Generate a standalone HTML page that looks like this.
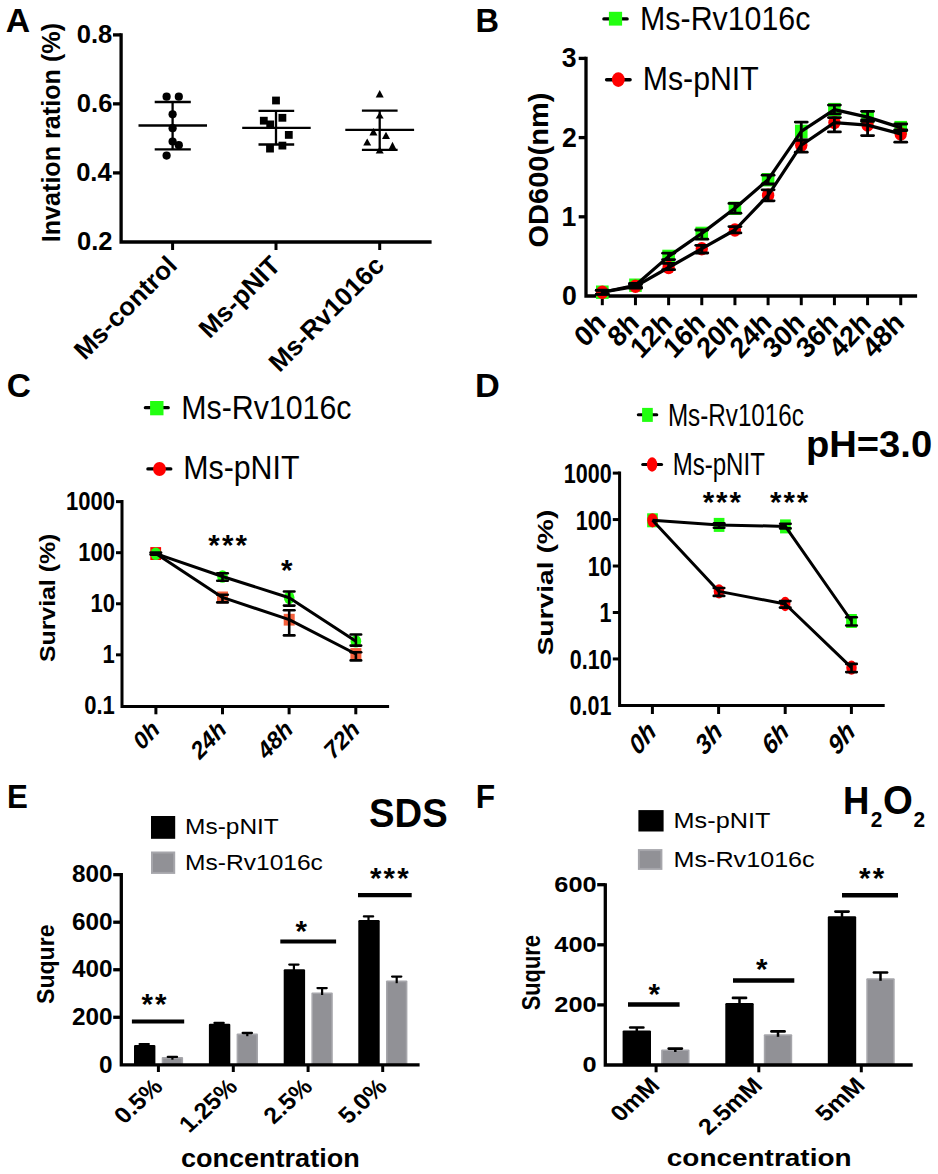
<!DOCTYPE html>
<html><head><meta charset="utf-8"><style>
html,body{margin:0;padding:0;background:#fff;}
svg{display:block;}
text{font-family:"Liberation Sans", sans-serif;fill:#000;}
</style></head><body>
<svg width="938" height="1174" viewBox="0 0 938 1174">
<rect width="938" height="1174" fill="#fff"/>
<text transform="translate(5.70,31.60)" font-size="33.75" font-weight="bold" font-style="normal" text-anchor="start">A</text>
<path d="M121.10,33.20 V242.00 M119.45,242.00 H431.60" fill="none" stroke="#000" stroke-width="3.3"/>
<line x1="113.00" y1="34.90" x2="121.10" y2="34.90" stroke="#000" stroke-width="3.3" stroke-linecap="butt"/>
<line x1="113.00" y1="103.85" x2="121.10" y2="103.85" stroke="#000" stroke-width="3.3" stroke-linecap="butt"/>
<line x1="113.00" y1="172.90" x2="121.10" y2="172.90" stroke="#000" stroke-width="3.3" stroke-linecap="butt"/>
<text transform="translate(112.25,43.15) scale(1,1.0222)" font-size="25.55" font-weight="bold" font-style="normal" text-anchor="end">0.8</text>
<text transform="translate(112.35,112.10) scale(1,1.0222)" font-size="25.55" font-weight="bold" font-style="normal" text-anchor="end">0.6</text>
<text transform="translate(111.65,181.15) scale(1,1.0222)" font-size="25.55" font-weight="bold" font-style="normal" text-anchor="end">0.4</text>
<text transform="translate(112.45,250.25) scale(1,1.0222)" font-size="25.55" font-weight="bold" font-style="normal" text-anchor="end">0.2</text>
<text transform="translate(59.52,242.30) rotate(-90) scale(1,1.0342)" font-size="25.15" font-weight="bold" font-style="normal" text-anchor="start">Invation ration (%)</text>
<line x1="172.60" y1="242.00" x2="172.60" y2="250.00" stroke="#000" stroke-width="3" stroke-linecap="butt"/>
<text transform="translate(178.60,267.00) rotate(-45)" font-size="26.00" font-weight="bold" font-style="normal" text-anchor="end">Ms-control</text>
<line x1="276.00" y1="242.00" x2="276.00" y2="250.00" stroke="#000" stroke-width="3" stroke-linecap="butt"/>
<text transform="translate(282.00,267.00) rotate(-45)" font-size="26.00" font-weight="bold" font-style="normal" text-anchor="end">Ms-pNIT</text>
<line x1="379.70" y1="242.00" x2="379.70" y2="250.00" stroke="#000" stroke-width="3" stroke-linecap="butt"/>
<text transform="translate(385.70,267.00) rotate(-45)" font-size="26.00" font-weight="bold" font-style="normal" text-anchor="end">Ms-Rv1016c</text>
<ellipse cx="166.60" cy="96.70" rx="4.10" ry="4.10" fill="#000"/>
<ellipse cx="178.80" cy="96.70" rx="4.10" ry="4.10" fill="#000"/>
<ellipse cx="172.60" cy="114.30" rx="4.10" ry="4.10" fill="#000"/>
<ellipse cx="172.60" cy="128.20" rx="4.10" ry="4.10" fill="#000"/>
<ellipse cx="172.60" cy="141.50" rx="4.10" ry="4.10" fill="#000"/>
<ellipse cx="178.80" cy="145.20" rx="4.10" ry="4.10" fill="#000"/>
<ellipse cx="166.60" cy="155.60" rx="4.10" ry="4.10" fill="#000"/>
<rect x="272.10" y="96.60" width="7.80" height="7.80" fill="#000"/>
<rect x="259.90" y="116.80" width="7.80" height="7.80" fill="#000"/>
<rect x="266.30" y="120.50" width="7.80" height="7.80" fill="#000"/>
<rect x="278.50" y="113.90" width="7.80" height="7.80" fill="#000"/>
<rect x="284.90" y="131.00" width="7.80" height="7.80" fill="#000"/>
<rect x="278.50" y="141.70" width="7.80" height="7.80" fill="#000"/>
<rect x="266.10" y="144.70" width="7.80" height="7.80" fill="#000"/>
<polygon points="379.70,90.10 383.70,97.60 375.70,97.60" fill="#000"/>
<polygon points="379.70,112.00 383.70,118.60 375.70,118.60" fill="#000"/>
<polygon points="373.40,128.00 377.40,135.40 369.40,135.40" fill="#000"/>
<polygon points="386.00,131.70 390.00,139.00 382.00,139.00" fill="#000"/>
<polygon points="367.20,138.40 371.20,145.60 363.20,145.60" fill="#000"/>
<polygon points="392.50,141.80 396.50,149.80 388.50,149.80" fill="#000"/>
<polygon points="379.70,146.50 383.70,153.50 375.70,153.50" fill="#000"/>
<line x1="138.50" y1="125.50" x2="207.00" y2="125.50" stroke="#000" stroke-width="2.3" stroke-linecap="butt"/>
<line x1="172.60" y1="102.00" x2="172.60" y2="149.30" stroke="#000" stroke-width="2.3" stroke-linecap="butt"/>
<line x1="154.70" y1="102.00" x2="190.80" y2="102.00" stroke="#000" stroke-width="2.3" stroke-linecap="butt"/>
<line x1="154.70" y1="149.30" x2="190.80" y2="149.30" stroke="#000" stroke-width="2.3" stroke-linecap="butt"/>
<line x1="242.20" y1="127.90" x2="310.70" y2="127.90" stroke="#000" stroke-width="2.3" stroke-linecap="butt"/>
<line x1="276.00" y1="110.80" x2="276.00" y2="144.50" stroke="#000" stroke-width="2.3" stroke-linecap="butt"/>
<line x1="258.50" y1="110.80" x2="294.20" y2="110.80" stroke="#000" stroke-width="2.3" stroke-linecap="butt"/>
<line x1="258.50" y1="144.50" x2="294.20" y2="144.50" stroke="#000" stroke-width="2.3" stroke-linecap="butt"/>
<line x1="345.30" y1="129.90" x2="414.10" y2="129.90" stroke="#000" stroke-width="2.3" stroke-linecap="butt"/>
<line x1="379.70" y1="110.70" x2="379.70" y2="149.80" stroke="#000" stroke-width="2.3" stroke-linecap="butt"/>
<line x1="361.90" y1="110.70" x2="397.60" y2="110.70" stroke="#000" stroke-width="2.3" stroke-linecap="butt"/>
<line x1="361.90" y1="149.80" x2="397.60" y2="149.80" stroke="#000" stroke-width="2.3" stroke-linecap="butt"/>
<text transform="translate(475.40,31.60) scale(1,1.0357)" font-size="32.55" font-weight="bold" font-style="normal" text-anchor="start">B</text>
<path d="M586.00,56.80 V296.00 M584.35,296.00 H917.10" fill="none" stroke="#000" stroke-width="3.3"/>
<line x1="578.70" y1="58.40" x2="586.00" y2="58.40" stroke="#000" stroke-width="3.3" stroke-linecap="butt"/>
<line x1="578.70" y1="137.60" x2="586.00" y2="137.60" stroke="#000" stroke-width="3.3" stroke-linecap="butt"/>
<line x1="578.70" y1="216.80" x2="586.00" y2="216.80" stroke="#000" stroke-width="3.3" stroke-linecap="butt"/>
<text transform="translate(576.59,67.48) scale(1,1.0600)" font-size="26.60" font-weight="bold" font-style="normal" text-anchor="end">3</text>
<text transform="translate(576.69,146.68) scale(1,1.0600)" font-size="26.60" font-weight="bold" font-style="normal" text-anchor="end">2</text>
<text transform="translate(576.29,225.88) scale(1,1.0600)" font-size="26.60" font-weight="bold" font-style="normal" text-anchor="end">1</text>
<text transform="translate(576.69,305.08) scale(1,1.0600)" font-size="26.60" font-weight="bold" font-style="normal" text-anchor="end">0</text>
<text transform="translate(547.91,247.50) rotate(-90) scale(1,0.9481)" font-size="29.05" font-weight="bold" font-style="normal" text-anchor="start">OD600(nm)</text>
<line x1="602.30" y1="296.00" x2="602.30" y2="305.20" stroke="#000" stroke-width="3" stroke-linecap="butt"/>
<text transform="translate(607.35,324.40) scale(1,1.0900) rotate(-45)" font-size="26.70" font-weight="bold" font-style="normal" text-anchor="end">0h</text>
<line x1="635.46" y1="296.00" x2="635.46" y2="305.20" stroke="#000" stroke-width="3" stroke-linecap="butt"/>
<text transform="translate(640.51,324.40) scale(1,1.0900) rotate(-45)" font-size="26.70" font-weight="bold" font-style="normal" text-anchor="end">8h</text>
<line x1="668.62" y1="296.00" x2="668.62" y2="305.20" stroke="#000" stroke-width="3" stroke-linecap="butt"/>
<text transform="translate(673.67,324.40) scale(1,1.0900) rotate(-45)" font-size="26.70" font-weight="bold" font-style="normal" text-anchor="end">12h</text>
<line x1="701.78" y1="296.00" x2="701.78" y2="305.20" stroke="#000" stroke-width="3" stroke-linecap="butt"/>
<text transform="translate(706.83,324.40) scale(1,1.0900) rotate(-45)" font-size="26.70" font-weight="bold" font-style="normal" text-anchor="end">16h</text>
<line x1="734.94" y1="296.00" x2="734.94" y2="305.20" stroke="#000" stroke-width="3" stroke-linecap="butt"/>
<text transform="translate(739.99,324.40) scale(1,1.0900) rotate(-45)" font-size="26.70" font-weight="bold" font-style="normal" text-anchor="end">20h</text>
<line x1="768.10" y1="296.00" x2="768.10" y2="305.20" stroke="#000" stroke-width="3" stroke-linecap="butt"/>
<text transform="translate(773.15,324.40) scale(1,1.0900) rotate(-45)" font-size="26.70" font-weight="bold" font-style="normal" text-anchor="end">24h</text>
<line x1="801.26" y1="296.00" x2="801.26" y2="305.20" stroke="#000" stroke-width="3" stroke-linecap="butt"/>
<text transform="translate(806.31,324.40) scale(1,1.0900) rotate(-45)" font-size="26.70" font-weight="bold" font-style="normal" text-anchor="end">30h</text>
<line x1="834.42" y1="296.00" x2="834.42" y2="305.20" stroke="#000" stroke-width="3" stroke-linecap="butt"/>
<text transform="translate(839.47,324.40) scale(1,1.0900) rotate(-45)" font-size="26.70" font-weight="bold" font-style="normal" text-anchor="end">36h</text>
<line x1="867.58" y1="296.00" x2="867.58" y2="305.20" stroke="#000" stroke-width="3" stroke-linecap="butt"/>
<text transform="translate(872.63,324.40) scale(1,1.0900) rotate(-45)" font-size="26.70" font-weight="bold" font-style="normal" text-anchor="end">42h</text>
<line x1="900.74" y1="296.00" x2="900.74" y2="305.20" stroke="#000" stroke-width="3" stroke-linecap="butt"/>
<text transform="translate(905.79,324.40) scale(1,1.0900) rotate(-45)" font-size="26.70" font-weight="bold" font-style="normal" text-anchor="end">48h</text>
<rect x="596.00" y="285.50" width="12.60" height="13.40" fill="#22ff10"/>
<rect x="629.16" y="278.50" width="12.60" height="13.40" fill="#22ff10"/>
<rect x="662.32" y="249.70" width="12.60" height="13.40" fill="#22ff10"/>
<rect x="695.48" y="226.70" width="12.60" height="13.40" fill="#22ff10"/>
<rect x="728.64" y="201.60" width="12.60" height="13.40" fill="#22ff10"/>
<rect x="761.80" y="173.00" width="12.60" height="13.40" fill="#22ff10"/>
<rect x="794.96" y="124.70" width="12.60" height="13.40" fill="#22ff10"/>
<rect x="828.12" y="102.90" width="12.60" height="13.40" fill="#22ff10"/>
<rect x="861.28" y="110.40" width="12.60" height="13.40" fill="#22ff10"/>
<rect x="894.44" y="120.90" width="12.60" height="13.40" fill="#22ff10"/>
<ellipse cx="602.30" cy="292.20" rx="6.20" ry="6.70" fill="#ff0000"/>
<ellipse cx="635.46" cy="286.30" rx="6.20" ry="6.70" fill="#ff0000"/>
<ellipse cx="668.62" cy="267.50" rx="6.20" ry="6.70" fill="#ff0000"/>
<ellipse cx="701.78" cy="248.70" rx="6.20" ry="6.70" fill="#ff0000"/>
<ellipse cx="734.94" cy="230.00" rx="6.20" ry="6.70" fill="#ff0000"/>
<ellipse cx="768.10" cy="195.30" rx="6.20" ry="6.70" fill="#ff0000"/>
<ellipse cx="801.26" cy="145.20" rx="6.20" ry="6.70" fill="#ff0000"/>
<ellipse cx="834.42" cy="122.60" rx="6.20" ry="6.70" fill="#ff0000"/>
<ellipse cx="867.58" cy="125.10" rx="6.20" ry="6.70" fill="#ff0000"/>
<ellipse cx="900.74" cy="133.90" rx="6.20" ry="6.70" fill="#ff0000"/>
<polyline points="602.30,292.20 635.46,285.20 668.62,256.40 701.78,233.40 734.94,208.30 768.10,179.70 801.26,131.40 834.42,109.60 867.58,117.10 900.74,127.60" fill="none" stroke="#000" stroke-width="3.2" stroke-linejoin="round"/>
<polyline points="602.30,292.20 635.46,286.30 668.62,267.50 701.78,248.70 734.94,230.00 768.10,195.30 801.26,145.20 834.42,122.60 867.58,125.10 900.74,133.90" fill="none" stroke="#000" stroke-width="3.2" stroke-linejoin="round"/>
<line x1="602.30" y1="290.20" x2="602.30" y2="294.20" stroke="#000" stroke-width="2.8" stroke-linecap="butt"/>
<line x1="596.30" y1="290.20" x2="608.30" y2="290.20" stroke="#000" stroke-width="2.8" stroke-linecap="round"/>
<line x1="596.30" y1="294.20" x2="608.30" y2="294.20" stroke="#000" stroke-width="2.8" stroke-linecap="round"/>
<line x1="635.46" y1="283.40" x2="635.46" y2="287.20" stroke="#000" stroke-width="2.8" stroke-linecap="butt"/>
<line x1="629.46" y1="283.40" x2="641.46" y2="283.40" stroke="#000" stroke-width="2.8" stroke-linecap="round"/>
<line x1="629.46" y1="287.20" x2="641.46" y2="287.20" stroke="#000" stroke-width="2.8" stroke-linecap="round"/>
<line x1="668.62" y1="253.20" x2="668.62" y2="259.60" stroke="#000" stroke-width="2.8" stroke-linecap="butt"/>
<line x1="662.62" y1="253.20" x2="674.62" y2="253.20" stroke="#000" stroke-width="2.8" stroke-linecap="round"/>
<line x1="662.62" y1="259.60" x2="674.62" y2="259.60" stroke="#000" stroke-width="2.8" stroke-linecap="round"/>
<line x1="701.78" y1="230.00" x2="701.78" y2="239.20" stroke="#000" stroke-width="2.8" stroke-linecap="butt"/>
<line x1="695.78" y1="230.00" x2="707.78" y2="230.00" stroke="#000" stroke-width="2.8" stroke-linecap="round"/>
<line x1="695.78" y1="239.20" x2="707.78" y2="239.20" stroke="#000" stroke-width="2.8" stroke-linecap="round"/>
<line x1="734.94" y1="203.40" x2="734.94" y2="213.20" stroke="#000" stroke-width="2.8" stroke-linecap="butt"/>
<line x1="728.94" y1="203.40" x2="740.94" y2="203.40" stroke="#000" stroke-width="2.8" stroke-linecap="round"/>
<line x1="728.94" y1="213.20" x2="740.94" y2="213.20" stroke="#000" stroke-width="2.8" stroke-linecap="round"/>
<line x1="768.10" y1="175.20" x2="768.10" y2="184.00" stroke="#000" stroke-width="2.8" stroke-linecap="butt"/>
<line x1="762.10" y1="175.20" x2="774.10" y2="175.20" stroke="#000" stroke-width="2.8" stroke-linecap="round"/>
<line x1="762.10" y1="184.00" x2="774.10" y2="184.00" stroke="#000" stroke-width="2.8" stroke-linecap="round"/>
<line x1="801.26" y1="122.10" x2="801.26" y2="140.00" stroke="#000" stroke-width="2.8" stroke-linecap="butt"/>
<line x1="795.26" y1="122.10" x2="807.26" y2="122.10" stroke="#000" stroke-width="2.8" stroke-linecap="round"/>
<line x1="795.26" y1="140.00" x2="807.26" y2="140.00" stroke="#000" stroke-width="2.8" stroke-linecap="round"/>
<line x1="834.42" y1="105.10" x2="834.42" y2="113.80" stroke="#000" stroke-width="2.8" stroke-linecap="butt"/>
<line x1="828.42" y1="105.10" x2="840.42" y2="105.10" stroke="#000" stroke-width="2.8" stroke-linecap="round"/>
<line x1="828.42" y1="113.80" x2="840.42" y2="113.80" stroke="#000" stroke-width="2.8" stroke-linecap="round"/>
<line x1="867.58" y1="111.30" x2="867.58" y2="121.40" stroke="#000" stroke-width="2.8" stroke-linecap="butt"/>
<line x1="861.58" y1="111.30" x2="873.58" y2="111.30" stroke="#000" stroke-width="2.8" stroke-linecap="round"/>
<line x1="861.58" y1="121.40" x2="873.58" y2="121.40" stroke="#000" stroke-width="2.8" stroke-linecap="round"/>
<line x1="900.74" y1="124.00" x2="900.74" y2="130.50" stroke="#000" stroke-width="2.8" stroke-linecap="butt"/>
<line x1="894.74" y1="124.00" x2="906.74" y2="124.00" stroke="#000" stroke-width="2.8" stroke-linecap="round"/>
<line x1="894.74" y1="130.50" x2="906.74" y2="130.50" stroke="#000" stroke-width="2.8" stroke-linecap="round"/>
<line x1="602.30" y1="290.40" x2="602.30" y2="294.40" stroke="#000" stroke-width="2.8" stroke-linecap="butt"/>
<line x1="596.30" y1="290.40" x2="608.30" y2="290.40" stroke="#000" stroke-width="2.8" stroke-linecap="round"/>
<line x1="596.30" y1="294.40" x2="608.30" y2="294.40" stroke="#000" stroke-width="2.8" stroke-linecap="round"/>
<line x1="635.46" y1="284.60" x2="635.46" y2="288.20" stroke="#000" stroke-width="2.8" stroke-linecap="butt"/>
<line x1="629.46" y1="284.60" x2="641.46" y2="284.60" stroke="#000" stroke-width="2.8" stroke-linecap="round"/>
<line x1="629.46" y1="288.20" x2="641.46" y2="288.20" stroke="#000" stroke-width="2.8" stroke-linecap="round"/>
<line x1="668.62" y1="263.40" x2="668.62" y2="269.70" stroke="#000" stroke-width="2.8" stroke-linecap="butt"/>
<line x1="662.62" y1="263.40" x2="674.62" y2="263.40" stroke="#000" stroke-width="2.8" stroke-linecap="round"/>
<line x1="662.62" y1="269.70" x2="674.62" y2="269.70" stroke="#000" stroke-width="2.8" stroke-linecap="round"/>
<line x1="701.78" y1="245.30" x2="701.78" y2="253.00" stroke="#000" stroke-width="2.8" stroke-linecap="butt"/>
<line x1="695.78" y1="245.30" x2="707.78" y2="245.30" stroke="#000" stroke-width="2.8" stroke-linecap="round"/>
<line x1="695.78" y1="253.00" x2="707.78" y2="253.00" stroke="#000" stroke-width="2.8" stroke-linecap="round"/>
<line x1="734.94" y1="226.60" x2="734.94" y2="232.90" stroke="#000" stroke-width="2.8" stroke-linecap="butt"/>
<line x1="728.94" y1="226.60" x2="740.94" y2="226.60" stroke="#000" stroke-width="2.8" stroke-linecap="round"/>
<line x1="728.94" y1="232.90" x2="740.94" y2="232.90" stroke="#000" stroke-width="2.8" stroke-linecap="round"/>
<line x1="768.10" y1="189.80" x2="768.10" y2="200.80" stroke="#000" stroke-width="2.8" stroke-linecap="butt"/>
<line x1="762.10" y1="189.80" x2="774.10" y2="189.80" stroke="#000" stroke-width="2.8" stroke-linecap="round"/>
<line x1="762.10" y1="200.80" x2="774.10" y2="200.80" stroke="#000" stroke-width="2.8" stroke-linecap="round"/>
<line x1="801.26" y1="140.20" x2="801.26" y2="152.20" stroke="#000" stroke-width="2.8" stroke-linecap="butt"/>
<line x1="795.26" y1="140.20" x2="807.26" y2="140.20" stroke="#000" stroke-width="2.8" stroke-linecap="round"/>
<line x1="795.26" y1="152.20" x2="807.26" y2="152.20" stroke="#000" stroke-width="2.8" stroke-linecap="round"/>
<line x1="834.42" y1="117.60" x2="834.42" y2="131.90" stroke="#000" stroke-width="2.8" stroke-linecap="butt"/>
<line x1="828.42" y1="117.60" x2="840.42" y2="117.60" stroke="#000" stroke-width="2.8" stroke-linecap="round"/>
<line x1="828.42" y1="131.90" x2="840.42" y2="131.90" stroke="#000" stroke-width="2.8" stroke-linecap="round"/>
<line x1="867.58" y1="120.00" x2="867.58" y2="135.60" stroke="#000" stroke-width="2.8" stroke-linecap="butt"/>
<line x1="861.58" y1="120.00" x2="873.58" y2="120.00" stroke="#000" stroke-width="2.8" stroke-linecap="round"/>
<line x1="861.58" y1="135.60" x2="873.58" y2="135.60" stroke="#000" stroke-width="2.8" stroke-linecap="round"/>
<line x1="900.74" y1="130.00" x2="900.74" y2="142.20" stroke="#000" stroke-width="2.8" stroke-linecap="butt"/>
<line x1="894.74" y1="130.00" x2="906.74" y2="130.00" stroke="#000" stroke-width="2.8" stroke-linecap="round"/>
<line x1="894.74" y1="142.20" x2="906.74" y2="142.20" stroke="#000" stroke-width="2.8" stroke-linecap="round"/>
<line x1="603.90" y1="18.90" x2="627.10" y2="18.90" stroke="#000" stroke-width="3.4" stroke-linecap="round"/>
<rect x="608.90" y="11.80" width="13.20" height="13.80" fill="#22ff10"/>
<text transform="translate(640.10,29.68) scale(1,1.0791)" font-size="30.35" font-weight="normal" font-style="normal" text-anchor="start">Ms-Rv1016c</text>
<line x1="606.60" y1="79.70" x2="630.10" y2="79.70" stroke="#000" stroke-width="3.4" stroke-linecap="round"/>
<ellipse cx="618.30" cy="79.60" rx="6.45" ry="7.35" fill="#ff0000"/>
<text transform="translate(642.80,90.33) scale(1,1.1070)" font-size="30.25" font-weight="normal" font-style="normal" text-anchor="start">Ms-pNIT</text>
<text transform="translate(6.70,397.20) scale(1,1.0084)" font-size="33.45" font-weight="bold" font-style="normal" text-anchor="start">C</text>
<path d="M122.00,500.00 V706.40 M120.50,706.40 H389.10" fill="none" stroke="#000" stroke-width="3.0"/>
<line x1="116.00" y1="501.62" x2="122.00" y2="501.62" stroke="#000" stroke-width="3.0" stroke-linecap="butt"/>
<line x1="116.00" y1="552.69" x2="122.00" y2="552.69" stroke="#000" stroke-width="3.0" stroke-linecap="butt"/>
<line x1="116.00" y1="603.76" x2="122.00" y2="603.76" stroke="#000" stroke-width="3.0" stroke-linecap="butt"/>
<line x1="116.00" y1="654.83" x2="122.00" y2="654.83" stroke="#000" stroke-width="3.0" stroke-linecap="butt"/>
<text transform="translate(115.04,509.89) scale(1,1.1410)" font-size="22.05" font-weight="bold" font-style="normal" text-anchor="end">1000</text>
<text transform="translate(115.01,560.96) scale(1,1.1410)" font-size="22.05" font-weight="bold" font-style="normal" text-anchor="end">100</text>
<text transform="translate(115.07,612.03) scale(1,1.1410)" font-size="22.05" font-weight="bold" font-style="normal" text-anchor="end">10</text>
<text transform="translate(114.74,663.10) scale(1,1.1410)" font-size="22.05" font-weight="bold" font-style="normal" text-anchor="end">1</text>
<text transform="translate(114.78,714.17) scale(1,1.1410)" font-size="22.05" font-weight="bold" font-style="normal" text-anchor="end">0.1</text>
<text transform="translate(55.24,662.10) rotate(-90) scale(1,0.8966)" font-size="24.85" font-weight="bold" font-style="normal" text-anchor="start">Survial (%)</text>
<line x1="155.90" y1="706.40" x2="155.90" y2="714.30" stroke="#000" stroke-width="3" stroke-linecap="butt"/>
<text transform="translate(161.30,731.00) scale(1,1.0400) rotate(-45)" font-size="23.00" font-weight="bold" font-style="italic" text-anchor="end">0h</text>
<line x1="222.50" y1="706.40" x2="222.50" y2="714.30" stroke="#000" stroke-width="3" stroke-linecap="butt"/>
<text transform="translate(227.90,731.00) scale(1,1.0400) rotate(-45)" font-size="23.00" font-weight="bold" font-style="italic" text-anchor="end">24h</text>
<line x1="289.10" y1="706.40" x2="289.10" y2="714.30" stroke="#000" stroke-width="3" stroke-linecap="butt"/>
<text transform="translate(294.50,731.00) scale(1,1.0400) rotate(-45)" font-size="23.00" font-weight="bold" font-style="italic" text-anchor="end">48h</text>
<line x1="355.80" y1="706.40" x2="355.80" y2="714.30" stroke="#000" stroke-width="3" stroke-linecap="butt"/>
<text transform="translate(361.20,731.00) scale(1,1.0400) rotate(-45)" font-size="23.00" font-weight="bold" font-style="italic" text-anchor="end">72h</text>
<rect x="150.30" y="547.10" width="10.80" height="12.90" fill="#ff0000"/>
<rect x="217.00" y="591.50" width="11.00" height="11.80" fill="#f4603c"/>
<rect x="283.70" y="613.80" width="11.00" height="11.80" fill="#f4603c"/>
<rect x="350.40" y="648.10" width="11.00" height="11.80" fill="#f4603c"/>
<ellipse cx="155.80" cy="553.80" rx="5.30" ry="6.30" fill="#22ff10"/>
<ellipse cx="222.50" cy="576.50" rx="5.30" ry="6.30" fill="#22ff10"/>
<ellipse cx="289.20" cy="597.70" rx="5.30" ry="6.30" fill="#22ff10"/>
<ellipse cx="355.90" cy="641.20" rx="5.30" ry="6.30" fill="#22ff10"/>
<polyline points="155.80,553.60 222.50,576.50 289.20,597.70 355.90,641.20" fill="none" stroke="#000" stroke-width="3.0" stroke-linejoin="round"/>
<polyline points="155.80,553.60 222.50,597.40 289.20,619.70 355.90,654.00" fill="none" stroke="#000" stroke-width="3.0" stroke-linejoin="round"/>
<line x1="155.80" y1="552.60" x2="155.80" y2="554.60" stroke="#000" stroke-width="2.6" stroke-linecap="butt"/>
<line x1="150.55" y1="552.60" x2="161.05" y2="552.60" stroke="#000" stroke-width="2.6" stroke-linecap="round"/>
<line x1="150.55" y1="554.60" x2="161.05" y2="554.60" stroke="#000" stroke-width="2.6" stroke-linecap="round"/>
<line x1="222.50" y1="573.20" x2="222.50" y2="580.70" stroke="#000" stroke-width="2.6" stroke-linecap="butt"/>
<line x1="217.25" y1="573.20" x2="227.75" y2="573.20" stroke="#000" stroke-width="2.6" stroke-linecap="round"/>
<line x1="217.25" y1="580.70" x2="227.75" y2="580.70" stroke="#000" stroke-width="2.6" stroke-linecap="round"/>
<line x1="289.20" y1="591.50" x2="289.20" y2="605.60" stroke="#000" stroke-width="2.6" stroke-linecap="butt"/>
<line x1="283.95" y1="591.50" x2="294.45" y2="591.50" stroke="#000" stroke-width="2.6" stroke-linecap="round"/>
<line x1="283.95" y1="605.60" x2="294.45" y2="605.60" stroke="#000" stroke-width="2.6" stroke-linecap="round"/>
<line x1="355.90" y1="634.50" x2="355.90" y2="645.60" stroke="#000" stroke-width="2.6" stroke-linecap="butt"/>
<line x1="350.65" y1="634.50" x2="361.15" y2="634.50" stroke="#000" stroke-width="2.6" stroke-linecap="round"/>
<line x1="350.65" y1="645.60" x2="361.15" y2="645.60" stroke="#000" stroke-width="2.6" stroke-linecap="round"/>
<line x1="222.50" y1="594.70" x2="222.50" y2="602.40" stroke="#000" stroke-width="2.6" stroke-linecap="butt"/>
<line x1="217.25" y1="594.70" x2="227.75" y2="594.70" stroke="#000" stroke-width="2.6" stroke-linecap="round"/>
<line x1="217.25" y1="602.40" x2="227.75" y2="602.40" stroke="#000" stroke-width="2.6" stroke-linecap="round"/>
<line x1="289.20" y1="610.20" x2="289.20" y2="635.40" stroke="#000" stroke-width="2.6" stroke-linecap="butt"/>
<line x1="283.95" y1="610.20" x2="294.45" y2="610.20" stroke="#000" stroke-width="2.6" stroke-linecap="round"/>
<line x1="283.95" y1="635.40" x2="294.45" y2="635.40" stroke="#000" stroke-width="2.6" stroke-linecap="round"/>
<line x1="355.90" y1="652.30" x2="355.90" y2="660.40" stroke="#000" stroke-width="2.6" stroke-linecap="butt"/>
<line x1="350.65" y1="652.30" x2="361.15" y2="652.30" stroke="#000" stroke-width="2.6" stroke-linecap="round"/>
<line x1="350.65" y1="660.40" x2="361.15" y2="660.40" stroke="#000" stroke-width="2.6" stroke-linecap="round"/>
<text transform="translate(208.30,554.80)" font-size="29.50" font-weight="bold" font-style="normal" text-anchor="start">*</text>
<text transform="translate(222.00,554.80)" font-size="29.50" font-weight="bold" font-style="normal" text-anchor="start">*</text>
<text transform="translate(235.60,554.80)" font-size="29.50" font-weight="bold" font-style="normal" text-anchor="start">*</text>
<text transform="translate(280.90,579.90)" font-size="29.50" font-weight="bold" font-style="normal" text-anchor="start">*</text>
<line x1="145.40" y1="407.70" x2="168.20" y2="407.70" stroke="#000" stroke-width="3.3" stroke-linecap="round"/>
<rect x="150.10" y="401.00" width="13.40" height="14.30" fill="#22ff10"/>
<text transform="translate(181.20,419.27) scale(1,1.0837)" font-size="30.35" font-weight="normal" font-style="normal" text-anchor="start">Ms-Rv1016c</text>
<line x1="147.90" y1="468.90" x2="170.80" y2="468.90" stroke="#000" stroke-width="3.3" stroke-linecap="round"/>
<ellipse cx="159.50" cy="469.00" rx="6.45" ry="7.05" fill="#ff0000"/>
<text transform="translate(183.20,479.30) scale(1,1.0959)" font-size="30.35" font-weight="normal" font-style="normal" text-anchor="start">Ms-pNIT</text>
<text transform="translate(475.10,397.10) scale(1,0.9662)" font-size="34.35" font-weight="bold" font-style="normal" text-anchor="start">D</text>
<path d="M619.60,471.50 V705.60 M618.10,705.60 H884.70" fill="none" stroke="#000" stroke-width="3.0"/>
<line x1="612.80" y1="473.10" x2="619.60" y2="473.10" stroke="#000" stroke-width="3.0" stroke-linecap="butt"/>
<line x1="612.80" y1="519.56" x2="619.60" y2="519.56" stroke="#000" stroke-width="3.0" stroke-linecap="butt"/>
<line x1="612.80" y1="566.02" x2="619.60" y2="566.02" stroke="#000" stroke-width="3.0" stroke-linecap="butt"/>
<line x1="612.80" y1="612.48" x2="619.60" y2="612.48" stroke="#000" stroke-width="3.0" stroke-linecap="butt"/>
<line x1="612.80" y1="658.94" x2="619.60" y2="658.94" stroke="#000" stroke-width="3.0" stroke-linecap="butt"/>
<text transform="translate(611.75,483.04) scale(1,1.2941)" font-size="21.55" font-weight="bold" font-style="normal" text-anchor="end">1000</text>
<text transform="translate(611.74,529.50) scale(1,1.2941)" font-size="21.55" font-weight="bold" font-style="normal" text-anchor="end">100</text>
<text transform="translate(611.72,575.96) scale(1,1.2941)" font-size="21.55" font-weight="bold" font-style="normal" text-anchor="end">10</text>
<text transform="translate(611.41,622.42) scale(1,1.2941)" font-size="21.55" font-weight="bold" font-style="normal" text-anchor="end">1</text>
<text transform="translate(611.74,668.88) scale(1,1.2941)" font-size="21.55" font-weight="bold" font-style="normal" text-anchor="end">0.10</text>
<text transform="translate(611.44,715.34) scale(1,1.2941)" font-size="21.55" font-weight="bold" font-style="normal" text-anchor="end">0.01</text>
<text transform="translate(552.82,655.60) rotate(-90) scale(1,0.7765)" font-size="28.25" font-weight="bold" font-style="normal" text-anchor="start">Survial (%)</text>
<line x1="652.40" y1="705.60" x2="652.40" y2="714.00" stroke="#000" stroke-width="3" stroke-linecap="butt"/>
<text transform="translate(657.50,733.30) scale(1,1.2100) rotate(-45)" font-size="23.10" font-weight="bold" font-style="italic" text-anchor="end">0h</text>
<line x1="718.60" y1="705.60" x2="718.60" y2="714.00" stroke="#000" stroke-width="3" stroke-linecap="butt"/>
<text transform="translate(723.70,733.30) scale(1,1.2100) rotate(-45)" font-size="23.10" font-weight="bold" font-style="italic" text-anchor="end">3h</text>
<line x1="785.20" y1="705.60" x2="785.20" y2="714.00" stroke="#000" stroke-width="3" stroke-linecap="butt"/>
<text transform="translate(790.30,733.30) scale(1,1.2100) rotate(-45)" font-size="23.10" font-weight="bold" font-style="italic" text-anchor="end">6h</text>
<line x1="851.40" y1="705.60" x2="851.40" y2="714.00" stroke="#000" stroke-width="3" stroke-linecap="butt"/>
<text transform="translate(856.50,733.30) scale(1,1.2100) rotate(-45)" font-size="23.10" font-weight="bold" font-style="italic" text-anchor="end">9h</text>
<rect x="647.15" y="513.30" width="10.70" height="14.00" fill="#22ff10"/>
<rect x="713.75" y="517.90" width="10.70" height="14.00" fill="#22ff10"/>
<rect x="780.05" y="519.40" width="10.70" height="14.00" fill="#22ff10"/>
<rect x="846.15" y="614.00" width="10.70" height="14.00" fill="#22ff10"/>
<ellipse cx="652.50" cy="520.30" rx="5.25" ry="7.15" fill="#ff0000"/>
<ellipse cx="719.00" cy="591.40" rx="5.25" ry="7.15" fill="#ff0000"/>
<ellipse cx="785.20" cy="604.00" rx="5.25" ry="7.15" fill="#ff0000"/>
<ellipse cx="851.50" cy="667.70" rx="5.25" ry="7.15" fill="#ff0000"/>
<polyline points="652.50,520.30 719.10,524.90 785.40,526.40 851.50,621.00" fill="none" stroke="#000" stroke-width="3.0" stroke-linejoin="round"/>
<polyline points="652.50,520.30 719.00,591.40 785.20,604.00 851.50,667.70" fill="none" stroke="#000" stroke-width="3.0" stroke-linejoin="round"/>
<line x1="719.10" y1="523.20" x2="719.10" y2="527.80" stroke="#000" stroke-width="2.6" stroke-linecap="butt"/>
<line x1="713.85" y1="523.20" x2="724.35" y2="523.20" stroke="#000" stroke-width="2.6" stroke-linecap="round"/>
<line x1="713.85" y1="527.80" x2="724.35" y2="527.80" stroke="#000" stroke-width="2.6" stroke-linecap="round"/>
<line x1="785.40" y1="523.80" x2="785.40" y2="528.40" stroke="#000" stroke-width="2.6" stroke-linecap="butt"/>
<line x1="780.15" y1="523.80" x2="790.65" y2="523.80" stroke="#000" stroke-width="2.6" stroke-linecap="round"/>
<line x1="780.15" y1="528.40" x2="790.65" y2="528.40" stroke="#000" stroke-width="2.6" stroke-linecap="round"/>
<line x1="851.50" y1="617.30" x2="851.50" y2="625.50" stroke="#000" stroke-width="2.6" stroke-linecap="butt"/>
<line x1="846.25" y1="617.30" x2="856.75" y2="617.30" stroke="#000" stroke-width="2.6" stroke-linecap="round"/>
<line x1="846.25" y1="625.50" x2="856.75" y2="625.50" stroke="#000" stroke-width="2.6" stroke-linecap="round"/>
<line x1="719.00" y1="588.00" x2="719.00" y2="595.90" stroke="#000" stroke-width="2.6" stroke-linecap="butt"/>
<line x1="713.75" y1="588.00" x2="724.25" y2="588.00" stroke="#000" stroke-width="2.6" stroke-linecap="round"/>
<line x1="713.75" y1="595.90" x2="724.25" y2="595.90" stroke="#000" stroke-width="2.6" stroke-linecap="round"/>
<line x1="785.20" y1="601.10" x2="785.20" y2="607.60" stroke="#000" stroke-width="2.6" stroke-linecap="butt"/>
<line x1="779.95" y1="601.10" x2="790.45" y2="601.10" stroke="#000" stroke-width="2.6" stroke-linecap="round"/>
<line x1="779.95" y1="607.60" x2="790.45" y2="607.60" stroke="#000" stroke-width="2.6" stroke-linecap="round"/>
<line x1="851.50" y1="663.90" x2="851.50" y2="672.10" stroke="#000" stroke-width="2.6" stroke-linecap="butt"/>
<line x1="846.25" y1="663.90" x2="856.75" y2="663.90" stroke="#000" stroke-width="2.6" stroke-linecap="round"/>
<line x1="846.25" y1="672.10" x2="856.75" y2="672.10" stroke="#000" stroke-width="2.6" stroke-linecap="round"/>
<text transform="translate(702.80,511.80)" font-size="29.50" font-weight="bold" font-style="normal" text-anchor="start">*</text>
<text transform="translate(716.10,511.80)" font-size="29.50" font-weight="bold" font-style="normal" text-anchor="start">*</text>
<text transform="translate(729.40,511.80)" font-size="29.50" font-weight="bold" font-style="normal" text-anchor="start">*</text>
<text transform="translate(770.10,511.80)" font-size="29.50" font-weight="bold" font-style="normal" text-anchor="start">*</text>
<text transform="translate(783.40,511.80)" font-size="29.50" font-weight="bold" font-style="normal" text-anchor="start">*</text>
<text transform="translate(796.70,511.80)" font-size="29.50" font-weight="bold" font-style="normal" text-anchor="start">*</text>
<line x1="638.30" y1="414.70" x2="656.80" y2="414.70" stroke="#000" stroke-width="3.0" stroke-linecap="round"/>
<rect x="642.10" y="407.90" width="10.70" height="14.00" fill="#22ff10"/>
<text transform="translate(667.90,425.94) scale(1,1.3041)" font-size="24.25" font-weight="normal" font-style="normal" text-anchor="start">Ms-Rv1016c</text>
<line x1="642.70" y1="464.50" x2="661.60" y2="464.50" stroke="#000" stroke-width="3.0" stroke-linecap="round"/>
<ellipse cx="652.10" cy="464.50" rx="5.20" ry="7.15" fill="#ff0000"/>
<text transform="translate(672.70,475.46) scale(1,1.3287)" font-size="24.05" font-weight="normal" font-style="normal" text-anchor="start">Ms-pNIT</text>
<text transform="translate(806.00,457.38) scale(1,0.9769)" font-size="38.15" font-weight="bold" font-style="normal" text-anchor="start">pH=3.0</text>
<text transform="translate(7.00,808.10) scale(1,1.0744)" font-size="31.25" font-weight="bold" font-style="normal" text-anchor="start">E</text>
<line x1="144.20" y1="1045.90" x2="144.20" y2="1044.10" stroke="#000" stroke-width="2.2" stroke-linecap="butt"/>
<line x1="139.60" y1="1044.10" x2="148.80" y2="1044.10" stroke="#000" stroke-width="2.3" stroke-linecap="round"/>
<rect x="134.00" y="1044.90" width="21.4" height="19.90" rx="1.2" fill="#000"/>
<line x1="219.10" y1="1024.80" x2="219.10" y2="1023.00" stroke="#000" stroke-width="2.2" stroke-linecap="butt"/>
<line x1="214.50" y1="1023.00" x2="223.70" y2="1023.00" stroke="#000" stroke-width="2.3" stroke-linecap="round"/>
<rect x="208.90" y="1023.80" width="21.4" height="41.00" rx="1.2" fill="#000"/>
<line x1="293.90" y1="970.20" x2="293.90" y2="964.60" stroke="#000" stroke-width="2.2" stroke-linecap="butt"/>
<line x1="289.30" y1="964.60" x2="298.50" y2="964.60" stroke="#000" stroke-width="2.3" stroke-linecap="round"/>
<rect x="283.70" y="969.20" width="21.4" height="95.60" rx="1.2" fill="#000"/>
<line x1="368.50" y1="921.00" x2="368.50" y2="916.40" stroke="#000" stroke-width="2.2" stroke-linecap="butt"/>
<line x1="363.90" y1="916.40" x2="373.10" y2="916.40" stroke="#000" stroke-width="2.3" stroke-linecap="round"/>
<rect x="358.30" y="920.00" width="21.4" height="144.80" rx="1.2" fill="#000"/>
<rect x="161.70" y="1057.10" width="21.4" height="7.70" rx="1" fill="#a6a6ab"/>
<rect x="163.30" y="1058.70" width="18.20" height="6.10" fill="#919196"/>
<line x1="172.40" y1="1059.70" x2="172.40" y2="1056.90" stroke="#000" stroke-width="2.2" stroke-linecap="butt"/>
<line x1="167.80" y1="1056.90" x2="177.00" y2="1056.90" stroke="#000" stroke-width="2.3" stroke-linecap="round"/>
<rect x="236.60" y="1033.60" width="21.4" height="31.20" rx="1" fill="#a6a6ab"/>
<rect x="238.20" y="1035.20" width="18.20" height="29.60" fill="#919196"/>
<line x1="247.30" y1="1036.20" x2="247.30" y2="1033.00" stroke="#000" stroke-width="2.2" stroke-linecap="butt"/>
<line x1="242.70" y1="1033.00" x2="251.90" y2="1033.00" stroke="#000" stroke-width="2.3" stroke-linecap="round"/>
<rect x="311.40" y="992.40" width="21.4" height="72.40" rx="1" fill="#a6a6ab"/>
<rect x="313.00" y="994.00" width="18.20" height="70.80" fill="#919196"/>
<line x1="322.10" y1="995.00" x2="322.10" y2="988.10" stroke="#000" stroke-width="2.2" stroke-linecap="butt"/>
<line x1="317.50" y1="988.10" x2="326.70" y2="988.10" stroke="#000" stroke-width="2.3" stroke-linecap="round"/>
<rect x="386.00" y="980.60" width="21.4" height="84.20" rx="1" fill="#a6a6ab"/>
<rect x="387.60" y="982.20" width="18.20" height="82.60" fill="#919196"/>
<line x1="396.70" y1="983.20" x2="396.70" y2="976.60" stroke="#000" stroke-width="2.2" stroke-linecap="butt"/>
<line x1="392.10" y1="976.60" x2="401.30" y2="976.60" stroke="#000" stroke-width="2.3" stroke-linecap="round"/>
<path d="M121.30,873.00 V1064.80 M119.65,1064.80 H419.60" fill="none" stroke="#000" stroke-width="3.3"/>
<line x1="113.20" y1="874.68" x2="121.30" y2="874.68" stroke="#000" stroke-width="3.3" stroke-linecap="butt"/>
<line x1="113.20" y1="922.21" x2="121.30" y2="922.21" stroke="#000" stroke-width="3.3" stroke-linecap="butt"/>
<line x1="113.20" y1="969.74" x2="121.30" y2="969.74" stroke="#000" stroke-width="3.3" stroke-linecap="butt"/>
<line x1="113.20" y1="1017.27" x2="121.30" y2="1017.27" stroke="#000" stroke-width="3.3" stroke-linecap="butt"/>
<text transform="translate(112.64,882.39) scale(1,0.9709)" font-size="24.35" font-weight="bold" font-style="normal" text-anchor="end">800</text>
<text transform="translate(112.64,929.92) scale(1,0.9709)" font-size="24.35" font-weight="bold" font-style="normal" text-anchor="end">600</text>
<text transform="translate(112.64,977.45) scale(1,0.9709)" font-size="24.35" font-weight="bold" font-style="normal" text-anchor="end">400</text>
<text transform="translate(112.64,1024.98) scale(1,0.9709)" font-size="24.35" font-weight="bold" font-style="normal" text-anchor="end">200</text>
<text transform="translate(112.61,1072.51) scale(1,0.9709)" font-size="24.35" font-weight="bold" font-style="normal" text-anchor="end">0</text>
<text transform="translate(54.30,1003.90) rotate(-90) scale(1,1.0622)" font-size="23.05" font-weight="bold" font-style="normal" text-anchor="start">Suqure</text>
<line x1="158.40" y1="1064.80" x2="158.40" y2="1072.00" stroke="#000" stroke-width="3" stroke-linecap="butt"/>
<text transform="translate(164.00,1088.20) scale(1,0.9200) rotate(-45)" font-size="24.75" font-weight="bold" font-style="normal" text-anchor="end">0.5%</text>
<line x1="233.30" y1="1064.80" x2="233.30" y2="1072.00" stroke="#000" stroke-width="3" stroke-linecap="butt"/>
<text transform="translate(238.90,1088.20) scale(1,0.9200) rotate(-45)" font-size="24.75" font-weight="bold" font-style="normal" text-anchor="end">1.25%</text>
<line x1="308.10" y1="1064.80" x2="308.10" y2="1072.00" stroke="#000" stroke-width="3" stroke-linecap="butt"/>
<text transform="translate(313.70,1088.20) scale(1,0.9200) rotate(-45)" font-size="24.75" font-weight="bold" font-style="normal" text-anchor="end">2.5%</text>
<line x1="382.70" y1="1064.80" x2="382.70" y2="1072.00" stroke="#000" stroke-width="3" stroke-linecap="butt"/>
<text transform="translate(388.30,1088.20) scale(1,0.9200) rotate(-45)" font-size="24.75" font-weight="bold" font-style="normal" text-anchor="end">5.0%</text>
<text transform="translate(180.90,1166.82) scale(1,0.9246)" font-size="27.05" font-weight="bold" font-style="normal" text-anchor="start">concentration</text>
<text transform="translate(369.10,826.68) scale(1,1.0480)" font-size="38.25" font-weight="bold" font-style="normal" text-anchor="start">SDS</text>
<rect x="151.00" y="816.00" width="24.20" height="22.80" fill="#000"/>
<text transform="translate(185.10,834.39) scale(1,0.9227)" font-size="24.45" font-weight="normal" font-style="normal" text-anchor="start">Ms-pNIT</text>
<rect x="151.00" y="851.50" width="24.20" height="22.40" fill="#a6a6ab"/>
<rect x="153.00" y="853.50" width="20.20" height="18.40" fill="#919196"/>
<text transform="translate(185.10,869.72) scale(1,0.9195)" font-size="24.55" font-weight="normal" font-style="normal" text-anchor="start">Ms-Rv1016c</text>
<line x1="131.90" y1="1021.50" x2="184.20" y2="1021.50" stroke="#000" stroke-width="4.2" stroke-linecap="butt"/>
<line x1="280.30" y1="941.50" x2="336.10" y2="941.50" stroke="#000" stroke-width="4.2" stroke-linecap="butt"/>
<line x1="358.00" y1="895.20" x2="411.70" y2="895.20" stroke="#000" stroke-width="4.2" stroke-linecap="butt"/>
<text transform="translate(141.50,1014.30)" font-size="29.50" font-weight="bold" font-style="normal" text-anchor="start">*</text>
<text transform="translate(155.10,1014.30)" font-size="29.50" font-weight="bold" font-style="normal" text-anchor="start">*</text>
<text transform="translate(295.60,941.00)" font-size="29.50" font-weight="bold" font-style="normal" text-anchor="start">*</text>
<text transform="translate(370.00,888.10)" font-size="29.50" font-weight="bold" font-style="normal" text-anchor="start">*</text>
<text transform="translate(383.60,888.10)" font-size="29.50" font-weight="bold" font-style="normal" text-anchor="start">*</text>
<text transform="translate(397.20,888.10)" font-size="29.50" font-weight="bold" font-style="normal" text-anchor="start">*</text>
<text transform="translate(475.70,808.10) scale(1,1.0548)" font-size="31.75" font-weight="bold" font-style="normal" text-anchor="start">F</text>
<line x1="636.80" y1="1031.40" x2="636.80" y2="1027.50" stroke="#000" stroke-width="2.5" stroke-linecap="butt"/>
<line x1="630.20" y1="1027.50" x2="643.40" y2="1027.50" stroke="#000" stroke-width="2.6" stroke-linecap="round"/>
<rect x="622.60" y="1030.40" width="28.4" height="34.60" rx="1.2" fill="#000"/>
<line x1="739.50" y1="1004.10" x2="739.50" y2="997.90" stroke="#000" stroke-width="2.5" stroke-linecap="butt"/>
<line x1="732.90" y1="997.90" x2="746.10" y2="997.90" stroke="#000" stroke-width="2.6" stroke-linecap="round"/>
<rect x="725.30" y="1003.10" width="28.4" height="61.90" rx="1.2" fill="#000"/>
<line x1="842.00" y1="917.20" x2="842.00" y2="911.60" stroke="#000" stroke-width="2.5" stroke-linecap="butt"/>
<line x1="835.40" y1="911.60" x2="848.60" y2="911.60" stroke="#000" stroke-width="2.6" stroke-linecap="round"/>
<rect x="827.80" y="916.20" width="28.4" height="148.80" rx="1.2" fill="#000"/>
<rect x="661.10" y="1049.40" width="28.4" height="15.60" rx="1" fill="#a6a6ab"/>
<rect x="662.70" y="1051.00" width="25.20" height="14.00" fill="#919196"/>
<line x1="675.30" y1="1052.00" x2="675.30" y2="1048.60" stroke="#000" stroke-width="2.5" stroke-linecap="butt"/>
<line x1="668.70" y1="1048.60" x2="681.90" y2="1048.60" stroke="#000" stroke-width="2.6" stroke-linecap="round"/>
<rect x="763.80" y="1034.20" width="28.4" height="30.80" rx="1" fill="#a6a6ab"/>
<rect x="765.40" y="1035.80" width="25.20" height="29.20" fill="#919196"/>
<line x1="778.00" y1="1036.80" x2="778.00" y2="1031.40" stroke="#000" stroke-width="2.5" stroke-linecap="butt"/>
<line x1="771.40" y1="1031.40" x2="784.60" y2="1031.40" stroke="#000" stroke-width="2.6" stroke-linecap="round"/>
<rect x="866.30" y="978.20" width="28.4" height="86.80" rx="1" fill="#a6a6ab"/>
<rect x="867.90" y="979.80" width="25.20" height="85.20" fill="#919196"/>
<line x1="880.50" y1="980.80" x2="880.50" y2="972.50" stroke="#000" stroke-width="2.5" stroke-linecap="butt"/>
<line x1="873.90" y1="972.50" x2="887.10" y2="972.50" stroke="#000" stroke-width="2.6" stroke-linecap="round"/>
<path d="M605.30,883.20 V1065.00 M603.65,1065.00 H912.70" fill="none" stroke="#000" stroke-width="3.3"/>
<line x1="597.20" y1="884.70" x2="605.30" y2="884.70" stroke="#000" stroke-width="3.3" stroke-linecap="butt"/>
<line x1="597.20" y1="944.80" x2="605.30" y2="944.80" stroke="#000" stroke-width="3.3" stroke-linecap="butt"/>
<line x1="597.20" y1="1004.90" x2="605.30" y2="1004.90" stroke="#000" stroke-width="3.3" stroke-linecap="butt"/>
<text transform="translate(596.58,891.83) scale(1,0.8436)" font-size="25.35" font-weight="bold" font-style="normal" text-anchor="end">600</text>
<text transform="translate(596.58,951.93) scale(1,0.8436)" font-size="25.35" font-weight="bold" font-style="normal" text-anchor="end">400</text>
<text transform="translate(596.58,1012.03) scale(1,0.8436)" font-size="25.35" font-weight="bold" font-style="normal" text-anchor="end">200</text>
<text transform="translate(596.63,1072.13) scale(1,0.8436)" font-size="25.35" font-weight="bold" font-style="normal" text-anchor="end">0</text>
<text transform="translate(539.98,1010.30) rotate(-90) scale(1,1.1818)" font-size="21.85" font-weight="bold" font-style="normal" text-anchor="start">Suqure</text>
<line x1="656.10" y1="1065.00" x2="656.10" y2="1072.30" stroke="#000" stroke-width="3" stroke-linecap="butt"/>
<text transform="translate(661.10,1086.80) scale(1,0.8900) rotate(-45)" font-size="25.10" font-weight="bold" font-style="normal" text-anchor="end">0mM</text>
<line x1="758.80" y1="1065.00" x2="758.80" y2="1072.30" stroke="#000" stroke-width="3" stroke-linecap="butt"/>
<text transform="translate(763.80,1086.80) scale(1,0.8900) rotate(-45)" font-size="25.10" font-weight="bold" font-style="normal" text-anchor="end">2.5mM</text>
<line x1="861.30" y1="1065.00" x2="861.30" y2="1072.30" stroke="#000" stroke-width="3" stroke-linecap="butt"/>
<text transform="translate(866.30,1086.80) scale(1,0.8900) rotate(-45)" font-size="25.10" font-weight="bold" font-style="normal" text-anchor="end">5mM</text>
<text transform="translate(666.80,1166.04) scale(1,0.8641)" font-size="27.95" font-weight="bold" font-style="normal" text-anchor="start">concentration</text>
<text transform="translate(843.10,813.90) scale(1,1.0797)" font-size="36.55" font-weight="bold" font-style="normal" text-anchor="start">H</text>
<text transform="translate(870.70,826.50) scale(1,1.0483)" font-size="20.85" font-weight="bold" font-style="normal" text-anchor="start">2</text>
<text transform="translate(883.10,814.18) scale(1,1.0443)" font-size="38.35" font-weight="bold" font-style="normal" text-anchor="start">O</text>
<text transform="translate(913.40,826.50) scale(1,1.0483)" font-size="20.85" font-weight="bold" font-style="normal" text-anchor="start">2</text>
<rect x="638.40" y="810.10" width="25.20" height="21.40" fill="#000"/>
<text transform="translate(673.60,828.26) scale(1,0.8943)" font-size="25.25" font-weight="normal" font-style="normal" text-anchor="start">Ms-pNIT</text>
<rect x="637.90" y="849.10" width="24.50" height="20.80" fill="#a6a6ab"/>
<rect x="639.90" y="851.10" width="20.50" height="16.80" fill="#919196"/>
<text transform="translate(673.60,867.13) scale(1,0.8531)" font-size="25.15" font-weight="normal" font-style="normal" text-anchor="start">Ms-Rv1016c</text>
<line x1="628.00" y1="1004.50" x2="679.60" y2="1004.50" stroke="#000" stroke-width="4.5" stroke-linecap="butt"/>
<line x1="733.00" y1="980.50" x2="794.30" y2="980.50" stroke="#000" stroke-width="4.5" stroke-linecap="butt"/>
<line x1="842.00" y1="895.30" x2="898.00" y2="895.30" stroke="#000" stroke-width="4.5" stroke-linecap="butt"/>
<text transform="translate(648.60,1003.80)" font-size="29.50" font-weight="bold" font-style="normal" text-anchor="start">*</text>
<text transform="translate(756.10,978.50)" font-size="29.50" font-weight="bold" font-style="normal" text-anchor="start">*</text>
<text transform="translate(859.00,887.80)" font-size="29.50" font-weight="bold" font-style="normal" text-anchor="start">*</text>
<text transform="translate(872.80,887.80)" font-size="29.50" font-weight="bold" font-style="normal" text-anchor="start">*</text>
</svg>
</body></html>
